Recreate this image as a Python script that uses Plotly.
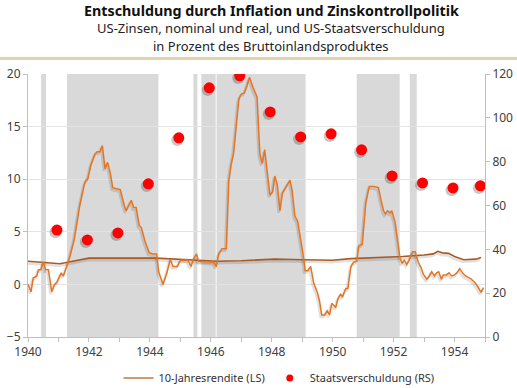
import plotly.graph_objects as go

# ---- data ----
infl_t = [1940.00, 1940.10, 1940.17, 1940.29, 1940.34, 1940.42, 1940.50, 1940.58, 1940.67, 1940.78,
          1940.87, 1940.95, 1941.09, 1941.16, 1941.27, 1941.38, 1941.52, 1941.60, 1941.70, 1941.85,
          1941.90, 1941.96, 1942.06, 1942.20, 1942.27, 1942.36, 1942.44, 1942.53, 1942.61, 1942.70,
          1942.78, 1942.90, 1943.03, 1943.16, 1943.22, 1943.39, 1943.47, 1943.55, 1943.65, 1943.72,
          1943.85, 1943.98, 1944.10, 1944.22, 1944.29, 1944.43, 1944.56, 1944.67, 1944.76, 1944.90,
          1945.00, 1945.25, 1945.35, 1945.43, 1945.53, 1945.60, 1946.10, 1946.18, 1946.26, 1946.37,
          1946.51, 1946.59, 1946.67, 1946.75, 1946.83, 1946.92, 1947.00, 1947.10, 1947.19, 1947.27,
          1947.39, 1947.52, 1947.61, 1947.69, 1947.77, 1947.85, 1947.94, 1948.03, 1948.10, 1948.18,
          1948.27, 1948.35, 1948.45, 1948.60, 1948.67, 1948.76, 1948.85, 1948.95, 1949.02, 1949.10,
          1949.18, 1949.28, 1949.38, 1949.50, 1949.57, 1949.64, 1949.74, 1949.82, 1949.90, 1949.97,
          1950.05, 1950.10, 1950.17, 1950.26, 1950.32, 1950.43, 1950.50, 1950.60, 1950.68, 1950.79,
          1950.86, 1950.97, 1951.09, 1951.20, 1951.36, 1951.50, 1951.58, 1951.67, 1951.73, 1951.80,
          1951.88, 1951.94, 1952.05, 1952.13, 1952.21, 1952.28, 1952.35, 1952.43, 1952.51, 1952.62,
          1952.71, 1952.81, 1952.90, 1952.98, 1953.09, 1953.17, 1953.25, 1953.34, 1953.41, 1953.48,
          1953.57, 1953.63, 1953.73, 1953.82, 1953.90, 1954.00, 1954.08, 1954.17, 1954.27, 1954.36,
          1954.47, 1954.55, 1954.67, 1954.76, 1954.87, 1954.95]
infl_v = [0.0, -0.7, 0.6, 0.8, 1.4, 1.4, 2.1, 1.4, 1.4, -0.7,
          0.0, 0.2, 1.1, 0.8, 1.7, 2.7, 4.3, 5.6, 7.5, 9.5,
          9.9, 10.0, 11.3, 12.4, 12.6, 12.6, 13.2, 11.0, 11.6, 10.6,
          9.2, 9.1, 9.0, 7.5, 7.0, 8.0, 7.3, 7.3, 5.6, 5.4,
          4.0, 3.0, 2.9, 2.9, 1.2, 0.0, 1.1, 2.4, 1.7, 1.7,
          2.3, 2.3, 1.7, 2.4, 2.9, 2.2, 2.1, 1.7, 2.9, 3.4,
          3.4, 9.8, 11.4, 12.5, 14.6, 17.6, 18.1, 18.2, 18.9, 19.7,
          18.7, 17.8, 12.4, 11.5, 12.8, 10.9, 8.5, 8.8, 10.3, 9.5,
          7.0, 8.7, 9.2, 9.9, 8.9, 6.5, 6.0, 4.3, 3.0, 1.3,
          1.3, 1.7, 0.1, -0.8, -1.6, -2.9, -2.9, -2.5, -2.9, -1.8,
          -2.1, -2.2, -1.4, -0.9, -1.2, -0.4, -0.4, 1.7, 2.1, 2.2,
          3.7, 3.8, 7.8, 9.3, 9.3, 9.2, 8.1, 7.0, 6.7, 7.0,
          6.8, 7.0, 5.9, 4.0, 2.5, 2.0, 2.3, 1.9, 2.3, 3.1,
          3.1, 2.1, 1.6, 0.95, 0.5, 0.8, 1.2, 0.8, 1.1, 1.2,
          0.5, 0.9, 0.9, 1.1, 0.8, 0.9, 1.1, 1.5, 1.05, 0.8,
          0.6, 0.5, 0.15, -0.2, -0.75, -0.3]

yield_t = [1940.0, 1940.5, 1941.05, 1941.3, 1942.0, 1944.2, 1944.5, 1945.1, 1946.2, 1947.0,
           1947.5, 1948.1, 1949.0, 1950.0, 1950.6, 1951.5, 1952.3, 1953.0, 1953.3, 1953.45,
           1953.6, 1953.8, 1954.0, 1954.3, 1954.5, 1954.7, 1954.87]
yield_v = [2.2, 2.1, 1.97, 2.1, 2.5, 2.5, 2.45, 2.35, 2.2, 2.25,
           2.35, 2.4, 2.35, 2.3, 2.45, 2.55, 2.65, 2.8, 2.9, 3.15,
           3.0, 2.95, 2.65, 2.35, 2.4, 2.4, 2.55]

debt_t = [1940.95, 1941.95, 1942.95, 1943.95, 1944.95, 1945.95, 1946.95, 1947.95,
          1948.95, 1949.95, 1950.95, 1951.95, 1952.95, 1953.95, 1954.85]
debt_v = [48.8, 44.3, 47.5, 69.9, 90.9, 113.7, 119.2, 102.7,
          91.3, 92.7, 85.4, 73.5, 70.3, 68.0, 69.0]

shade_start = [1940.43, 1941.28, 1945.43, 1945.69, 1946.19, 1950.79, 1952.53]
shade_end = [1940.59, 1944.28, 1945.56, 1946.16, 1949.11, 1952.20, 1952.76]

x_ticks = list(range(1940, 1956))
x_labels = [str(y) if y % 2 == 0 and y < 1955 else "" for y in x_ticks]

ORANGE = "#E8741E"
BROWN = "#A85A20"
FONT = "Noto Sans"

W, H = 517, 388
L, R, T, B = 28, 485, 74, 337
def px(x):  # page pixel x -> paper
    return (x - L) / (R - L)
def py(y):  # page pixel y -> paper
    return (B - y) / (B - T)

fig = go.Figure()

# subtle shadows
fig.add_trace(go.Scatter(x=[t - 0.04 for t in yield_t], y=[v - 0.2 for v in yield_v], mode="lines",
                         line=dict(color="rgba(0,0,0,0.12)", width=2.5), hoverinfo="skip", showlegend=False))
fig.add_trace(go.Scatter(x=[t - 0.04 for t in infl_t], y=[v - 0.2 for v in infl_v], mode="lines",
                         line=dict(color="rgba(0,0,0,0.12)", width=2.5), hoverinfo="skip", showlegend=False))

fig.add_trace(go.Scatter(x=yield_t, y=yield_v, mode="lines", name="10-Jahresrendite (LS)",
                         line=dict(color=BROWN, width=1.6), showlegend=False))
fig.add_trace(go.Scatter(x=infl_t, y=infl_v, mode="lines", showlegend=False,
                         line=dict(color=ORANGE, width=1.5)))

fig.add_trace(go.Scatter(x=[t - 0.05 for t in debt_t], y=[v - 1.0 for v in debt_v], mode="markers", yaxis="y2",
                         marker=dict(color="rgba(0,0,0,0.22)", size=12, line=dict(width=0)),
                         hoverinfo="skip", showlegend=False))
fig.add_trace(go.Scatter(x=debt_t, y=debt_v, mode="markers", yaxis="y2", name="Staatsverschuldung (RS)",
                         marker=dict(color="#FF0000", size=11, line=dict(width=0)), showlegend=False))

# legend entries
fig.add_trace(go.Scatter(x=[None], y=[None], mode="lines", name="10-Jahresrendite (LS)",
                         line=dict(color="#C0783C", width=1.5)))
fig.add_trace(go.Scatter(x=[None], y=[None], mode="markers", name="Staatsverschuldung (RS)",
                         marker=dict(color="#FF0000", size=7)))

for s, e in zip(shade_start, shade_end):
    fig.add_shape(type="rect", xref="x", yref="paper", x0=s, x1=e, y0=0, y1=1,
                  fillcolor="#D9D9D9", line=dict(width=0), layer="below")

# beige rule under title
fig.add_shape(type="line", xref="paper", yref="paper", x0=px(0), x1=px(W), y0=py(58.5), y1=py(58.5),
              line=dict(color="#E3D3AC", width=3))

tx = px(271)
fig.add_annotation(xref="paper", yref="paper", x=tx, y=py(10.5), text="<b>Entschuldung durch Inflation und Zinskontrollpolitik</b>",
                   showarrow=False, font=dict(family=FONT, size=14.3, color="#111111"), xanchor="center", yanchor="middle")
fig.add_annotation(xref="paper", yref="paper", x=tx, y=py(28), text="US-Zinsen, nominal und real, und US-Staatsverschuldung",
                   showarrow=False, font=dict(family=FONT, size=13, color="#222222"), xanchor="center", yanchor="middle")
fig.add_annotation(xref="paper", yref="paper", x=tx, y=py(46), text="in Prozent des Bruttoinlandsproduktes",
                   showarrow=False, font=dict(family=FONT, size=13, color="#222222"), xanchor="center", yanchor="middle")

fig.update_layout(
    width=W, height=H,
    margin=dict(l=L, r=W - R, t=T, b=H - B, pad=0, autoexpand=False),
    paper_bgcolor="white", plot_bgcolor="white",
    font=dict(family=FONT, size=12, color="#404040"),
    xaxis=dict(range=[1940, 1955], tickvals=x_ticks, ticktext=x_labels, ticks="outside", ticklen=4,
               tickcolor="#BFBFBF", showline=True, linecolor="#BFBFBF", linewidth=1, showgrid=False,
               zeroline=False, automargin=False, tickfont=dict(size=12, color="#404040")),
    yaxis=dict(range=[-5, 20], dtick=5, tick0=-5, ticks="outside", ticklen=4, tickcolor="#BFBFBF",
               showline=True, linecolor="#BFBFBF", showgrid=True, gridcolor="#E3E3E3", gridwidth=1,
               zeroline=False, automargin=False, tickfont=dict(size=12, color="#404040")),
    yaxis2=dict(range=[0, 120], dtick=20, overlaying="y", side="right", ticks="outside", ticklen=4,
                tickcolor="#BFBFBF", showline=True, linecolor="#BFBFBF", showgrid=False, zeroline=False,
                automargin=False, tickfont=dict(size=12, color="#404040")),
    legend=dict(orientation="h", x=px(279), xanchor="center", y=py(378), yanchor="middle",
                font=dict(size=11, color="#333333"), itemwidth=30, bgcolor="rgba(0,0,0,0)"),
    showlegend=True,
)

fig.write_html("out.html", config={"displayModeBar": False},
               post_script="document.body.style.margin='0';document.body.style.overflow='hidden';")
